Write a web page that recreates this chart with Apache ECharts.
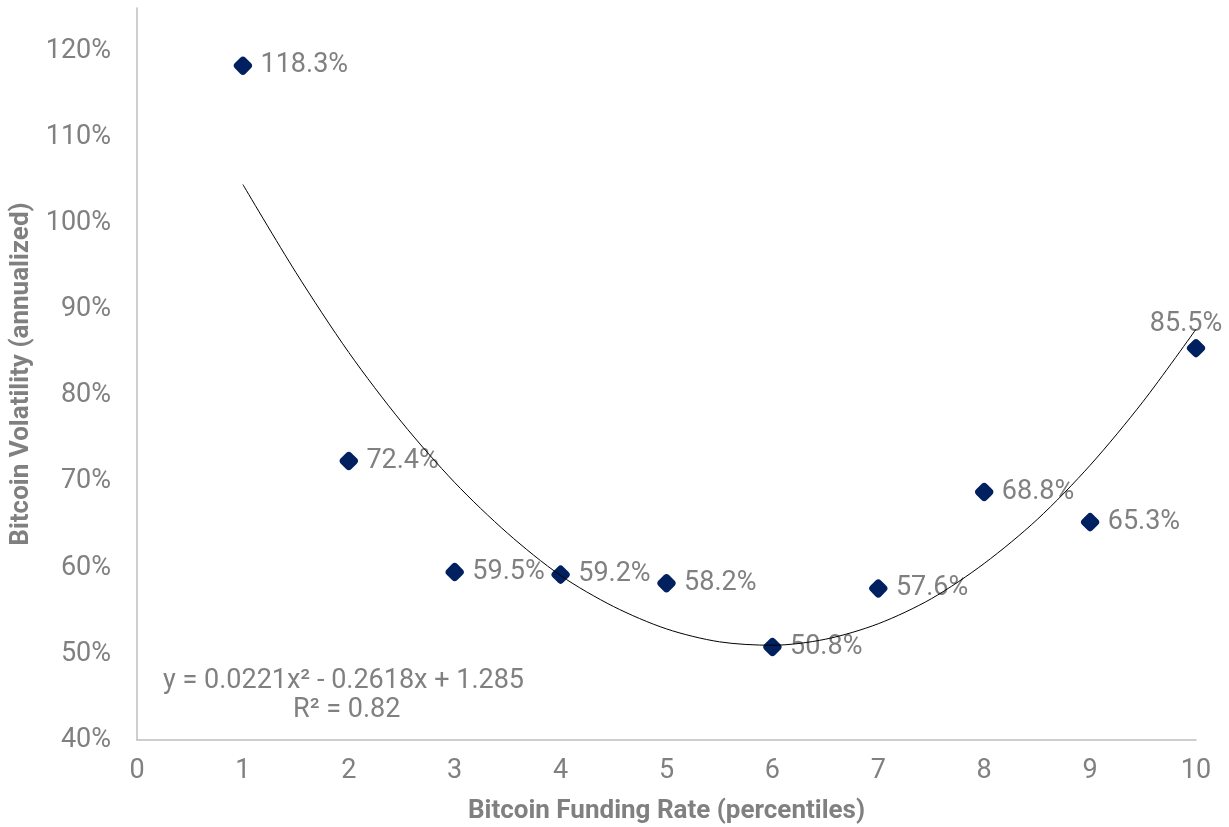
<!DOCTYPE html>
<html>
<head>
<meta charset="utf-8">
<script src="https://cdn.jsdelivr.net/npm/echarts@6/dist/echarts.min.js"></script>
<style>html,body{margin:0;padding:0;background:#fff}#c{width:1229px;height:827px}</style>
</head>
<body>
<div id="c"></div>
<script>
var fundingPercentiles = [1, 2, 3, 4, 5, 6, 7, 8, 9, 10];
var volatility = [118.3, 72.4, 59.5, 59.2, 58.2, 50.8, 57.6, 68.8, 65.3, 85.5];
var trendX = [1, 1.5, 2, 2.5, 3, 3.5, 4, 4.5, 5, 5.5, 6, 6.5, 7, 7.5, 8, 8.5, 9, 9.5, 10];
var trendY = [104.5, 94.3, 85.0, 76.9, 69.9, 64.0, 59.1, 55.5, 52.9, 51.4, 51.0, 51.7, 53.5, 56.4, 60.5, 65.6, 71.9, 79.3, 87.7];
var yTicks = [40, 50, 60, 70, 80, 90, 100, 110, 120];
var equationText = 'y = 0.0221x² - 0.2618x + 1.285';
var r2Text = 'R² = 0.82';

var gray = '#808080';
var font = 'Roboto';
var chart = echarts.init(document.getElementById('c'));

var scatterData = fundingPercentiles.map(function (x, i) {
  var item = { value: [x, volatility[i]] };
  if (i === fundingPercentiles.length - 1) {
    item.label = { position: 'top', distance: 0, offset: [-10, 0] };
  }
  return item;
});

chart.setOption({
  animation: false,
  grid: { left: 137, right: 33, top: 8, bottom: 87, containLabel: false, outerBoundsMode: 'none' },
  xAxis: {
    type: 'value', min: 0, max: 10, interval: 1,
    axisLine: { show: true, lineStyle: { color: '#bfbfbf', width: 1.5 } },
    axisTick: { show: false },
    splitLine: { show: false },
    axisLabel: { color: gray, fontFamily: font, fontSize: 27, margin: 18 },
    name: 'Bitcoin Funding Rate (percentiles)',
    nameLocation: 'middle', nameGap: 58,
    nameTextStyle: { color: gray, fontFamily: font, fontSize: 26, fontWeight: 'bold' }
  },
  yAxis: {
    type: 'value', min: 40, max: 125, interval: 10,
    axisLine: { show: true, lineStyle: { color: '#bfbfbf', width: 1.5 } },
    axisTick: { show: false },
    splitLine: { show: false },
    axisLabel: {
      color: gray, fontFamily: font, fontSize: 27, margin: 26, showMaxLabel: false,
      formatter: function (v) { return yTicks.indexOf(v) >= 0 ? v + '%' : ''; }
    },
    name: 'Bitcoin Volatility (annualized)',
    nameLocation: 'middle', nameGap: 102,
    nameTextStyle: { color: gray, fontFamily: font, fontSize: 26, fontWeight: 'bold' }
  },
  series: [
    {
      type: 'line',
      data: trendX.map(function (x, i) { return [x, trendY[i]]; }),
      smooth: 0.3,
      showSymbol: false,
      silent: true,
      lineStyle: { color: '#000', width: 1 },
      z: 3
    },
    {
      type: 'scatter',
      data: scatterData,
      symbol: 'roundRect',
      symbolRotate: 45,
      symbolSize: 15,
      itemStyle: { color: '#002060', opacity: 1 },
      label: {
        show: true, position: 'right', distance: 7,
        color: gray, fontFamily: font, fontSize: 27,
        formatter: function (p) { return p.value[1].toFixed(1) + '%'; }
      },
      z: 2
    }
  ],
  graphic: [
    {
      type: 'text', left: 163, top: 668,
      style: { text: equationText, fill: gray, font: '27px Roboto' }
    },
    {
      type: 'text', left: 293, top: 697,
      style: { text: r2Text, fill: gray, font: '27px Roboto' }
    }
  ]
});
</script>
</body>
</html>
